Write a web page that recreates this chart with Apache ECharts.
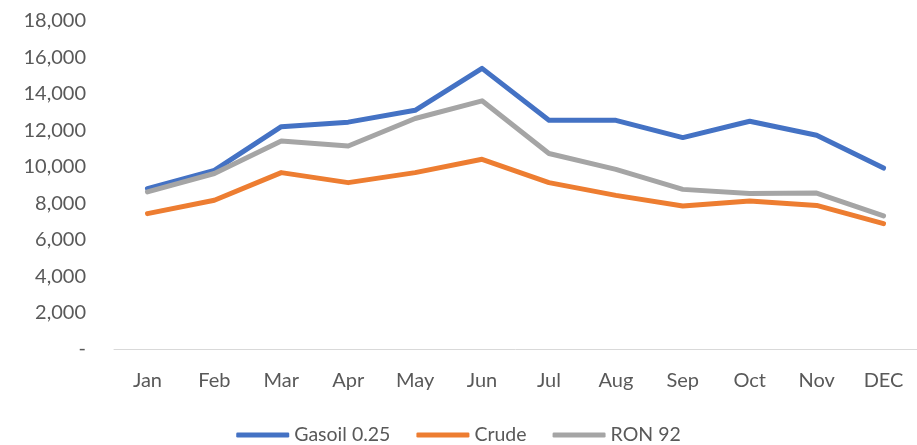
<!DOCTYPE html>
<html><head><meta charset="utf-8">
<script src="https://cdn.jsdelivr.net/npm/echarts@6/dist/echarts.min.js"></script>
<style>html,body{margin:0;padding:0;background:#fff}#c{width:917px;height:445px}</style>
</head><body><div id="c"></div>
<script>
const categories = ['Jan','Feb','Mar','Apr','May','Jun','Jul','Aug','Sep','Oct','Nov','DEC'];
const gasoil = [8800, 9800, 12200, 12450, 13100, 15400, 12550, 12550, 11600, 12500, 11730, 9930];
const crude  = [7430, 8160, 9680, 9130, 9680, 10410, 9130, 8430, 7850, 8120, 7880, 6880];
const ron92  = [8620, 9630, 11420, 11140, 12650, 13620, 10730, 9860, 8760, 8530, 8560, 7300];
const seriesNames = ['Gasoil 0.25','Crude','RON 92'];
const colors = ['#4472C4','#ED7D31','#A5A5A5'];
const font = 'Lato, "Open Sans", sans-serif';
const chart = echarts.init(document.getElementById('c'));
const mk = (name, data, color) => ({
  name, type:'line', data, symbol:'none', color,
  lineStyle:{width:5, color, cap:'round', join:'round'}
});
chart.setOption({
  animation:false,
  grid:{left:114, top:21, width:813, height:328, containLabel:false},
  legend:{
    top:420, left:'center',
    data:seriesNames,
    icon:'roundRect', itemWidth:53, itemHeight:5, itemGap:26,
    textStyle:{color:'#595959', fontSize:19.5, fontFamily:font}
  },
  xAxis:{
    type:'category', data:categories, boundaryGap:true,
    axisLine:{lineStyle:{color:'#D9D9D9', width:1}},
    axisTick:{show:false},
    axisLabel:{color:'#595959', fontSize:20, fontFamily:font, margin:22}
  },
  yAxis:{
    type:'value', min:0, max:18000, interval:2000,
    axisLine:{show:false}, axisTick:{show:false}, splitLine:{show:false},
    axisLabel:{color:'#595959', fontSize:20, fontFamily:font, margin:28,
      formatter:v => v===0 ? '-' : v.toLocaleString('en-US')}
  },
  series:[mk(seriesNames[0],gasoil,colors[0]), mk(seriesNames[1],crude,colors[1]), mk(seriesNames[2],ron92,colors[2])]
});
</script></body></html>
